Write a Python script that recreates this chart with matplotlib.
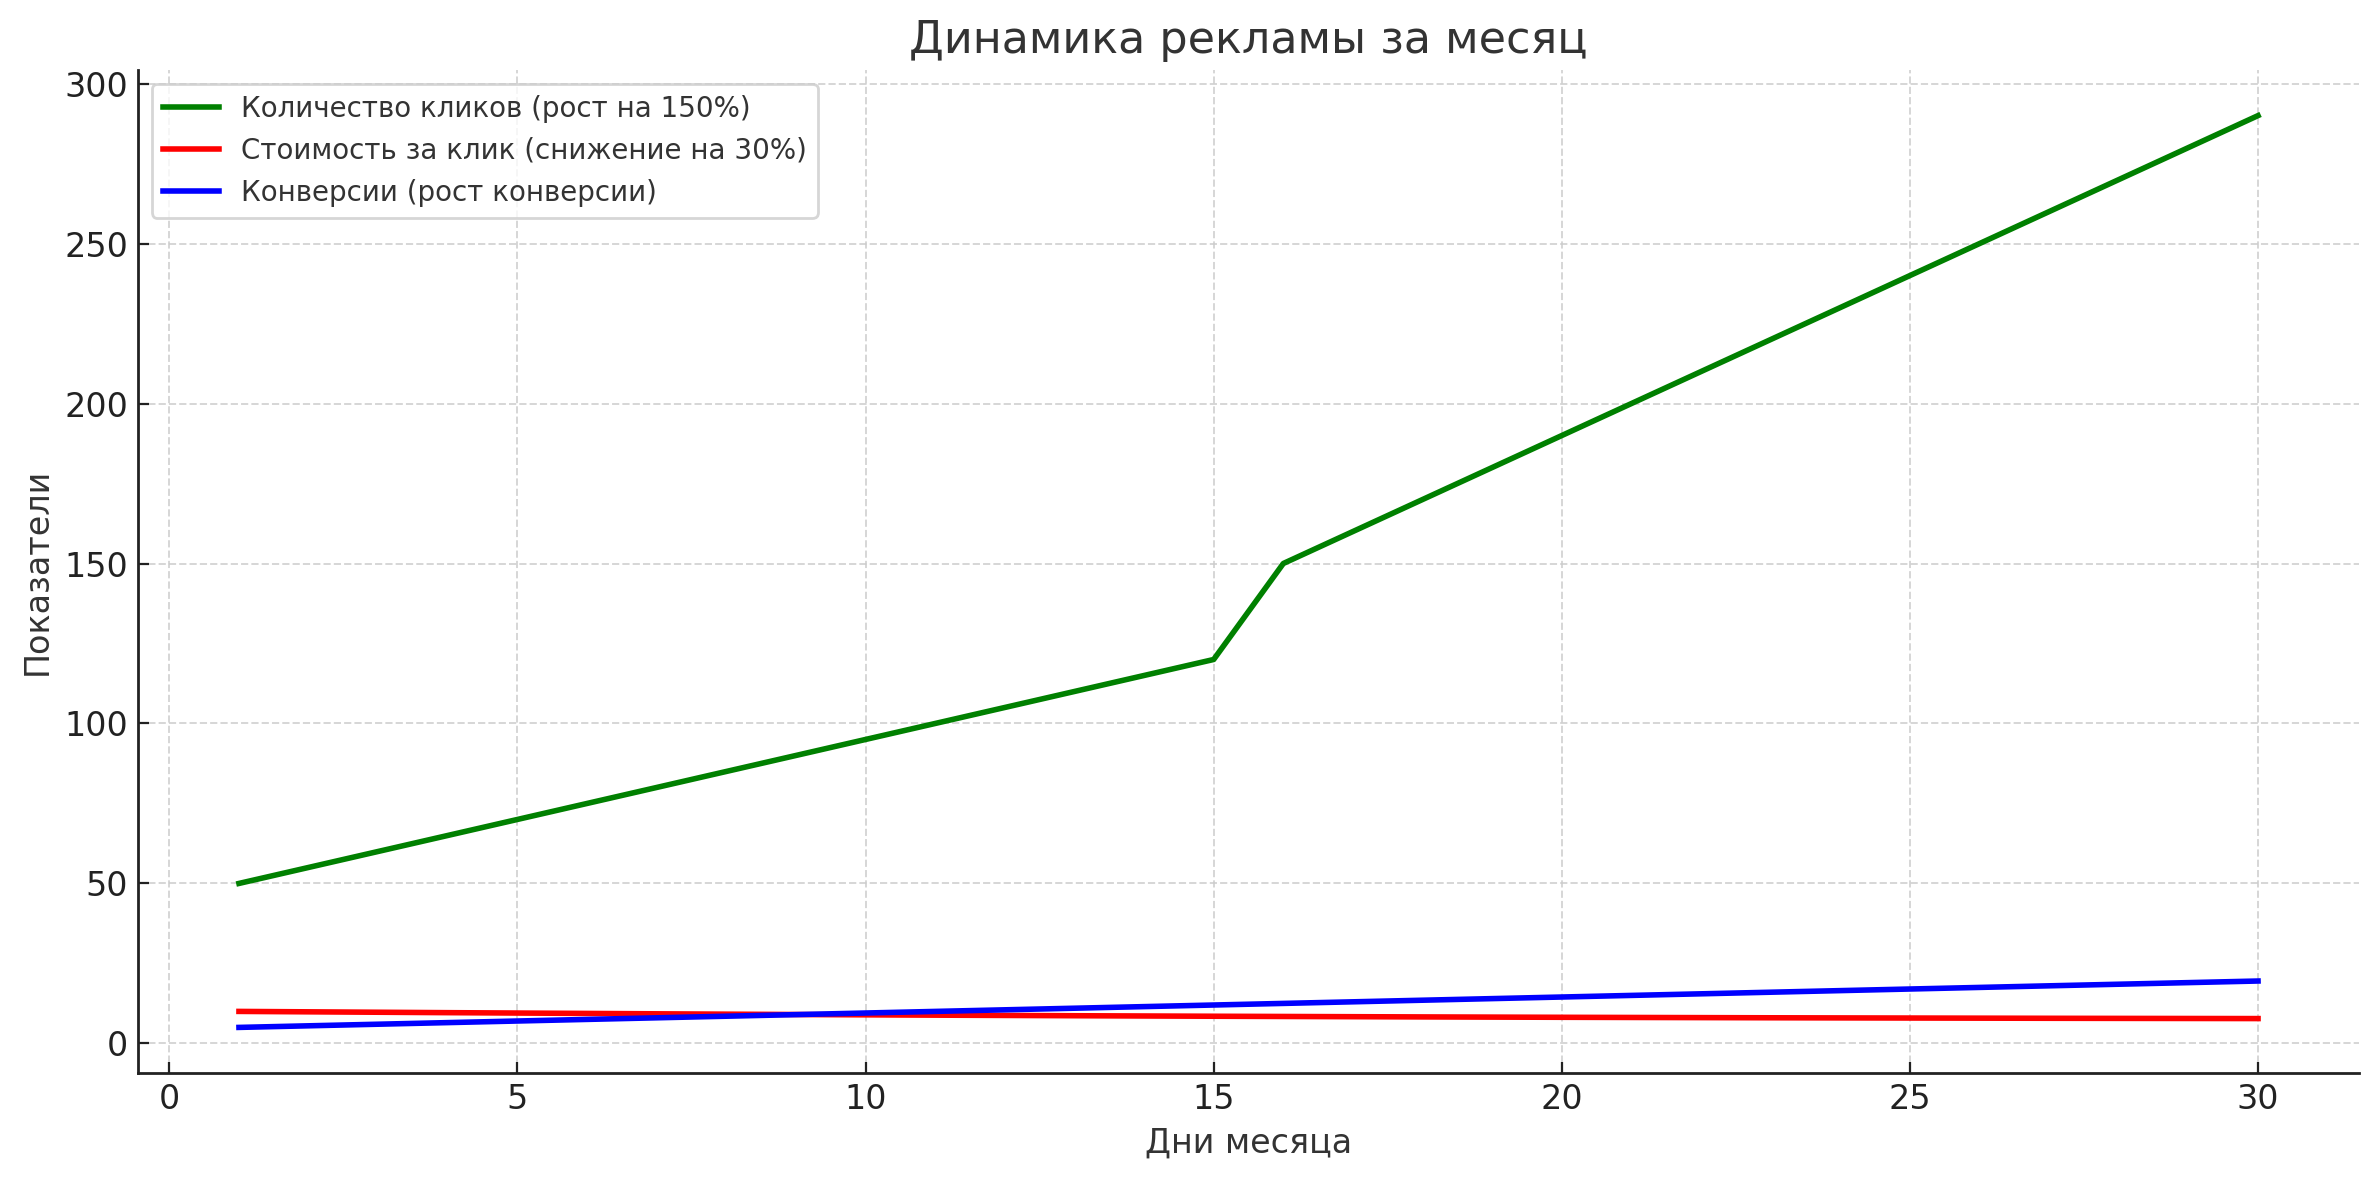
import matplotlib
matplotlib.use("Agg")
import matplotlib.pyplot as plt

days = list(range(1, 31))
clicks = [50, 55, 60, 65, 70, 75, 80, 85, 90, 95, 100, 105, 110, 115, 120,
          150, 160, 170, 180, 190, 200, 210, 220, 230, 240, 250, 260, 270, 280, 290]
cost_per_click = [10.0, 9.87, 9.74, 9.61, 9.49, 9.37, 9.25, 9.14, 9.03, 8.93,
                  8.83, 8.74, 8.65, 8.57, 8.49, 8.42, 8.35, 8.28, 8.22, 8.16,
                  8.11, 8.06, 8.01, 7.97, 7.93, 7.89, 7.85, 7.82, 7.79, 7.76]
conversions = [5.0, 5.5, 6.0, 6.5, 7.0, 7.5, 8.0, 8.5, 9.0, 9.5,
               10.0, 10.5, 11.0, 11.5, 12.0, 12.5, 13.0, 13.5, 14.0, 14.5,
               15.0, 15.5, 16.0, 16.5, 17.0, 17.5, 18.0, 18.5, 19.0, 19.5]

labels = ["Количество кликов (рост на 150%)",
          "Стоимость за клик (снижение на 30%)",
          "Конверсии (рост конверсии)"]
colors = ["green", "red", "blue"]

plt.rcParams['font.family'] = ['DejaVu Sans']
text_color = "#333333"

fig = plt.figure(figsize=(2379 / 200, 1180 / 200), dpi=200)
ax = fig.add_axes([138 / 2379, 1 - 1073 / 1180, (2359 - 138) / 2379, (1073 - 70) / 1180])

for series, lab, col in zip([clicks, cost_per_click, conversions], labels, colors):
    ax.plot(days, series, color=col, linewidth=2, label=lab)

ax.set_title("Динамика рекламы за месяц", fontsize=16, color=text_color)
ax.set_xlabel("Дни месяца", fontsize=12, color=text_color)
ax.set_ylabel("Показатели", fontsize=12, color=text_color)

ax.grid(True, linestyle="--", color="#cccccc", linewidth=0.7, alpha=0.8)
ax.set_axisbelow(True)
for s in ["top", "right"]:
    ax.spines[s].set_visible(False)
for s in ["left", "bottom"]:
    ax.spines[s].set_color("#222222")
    ax.spines[s].set_linewidth(1.0)
ax.tick_params(direction="in", labelsize=12, colors="#222222", length=4)

leg = ax.legend(loc="upper left", fontsize=10, frameon=True, fancybox=True)
leg.get_frame().set_edgecolor("#cccccc")
for t in leg.get_texts():
    t.set_color(text_color)

fig.savefig("out.png", dpi=200)
